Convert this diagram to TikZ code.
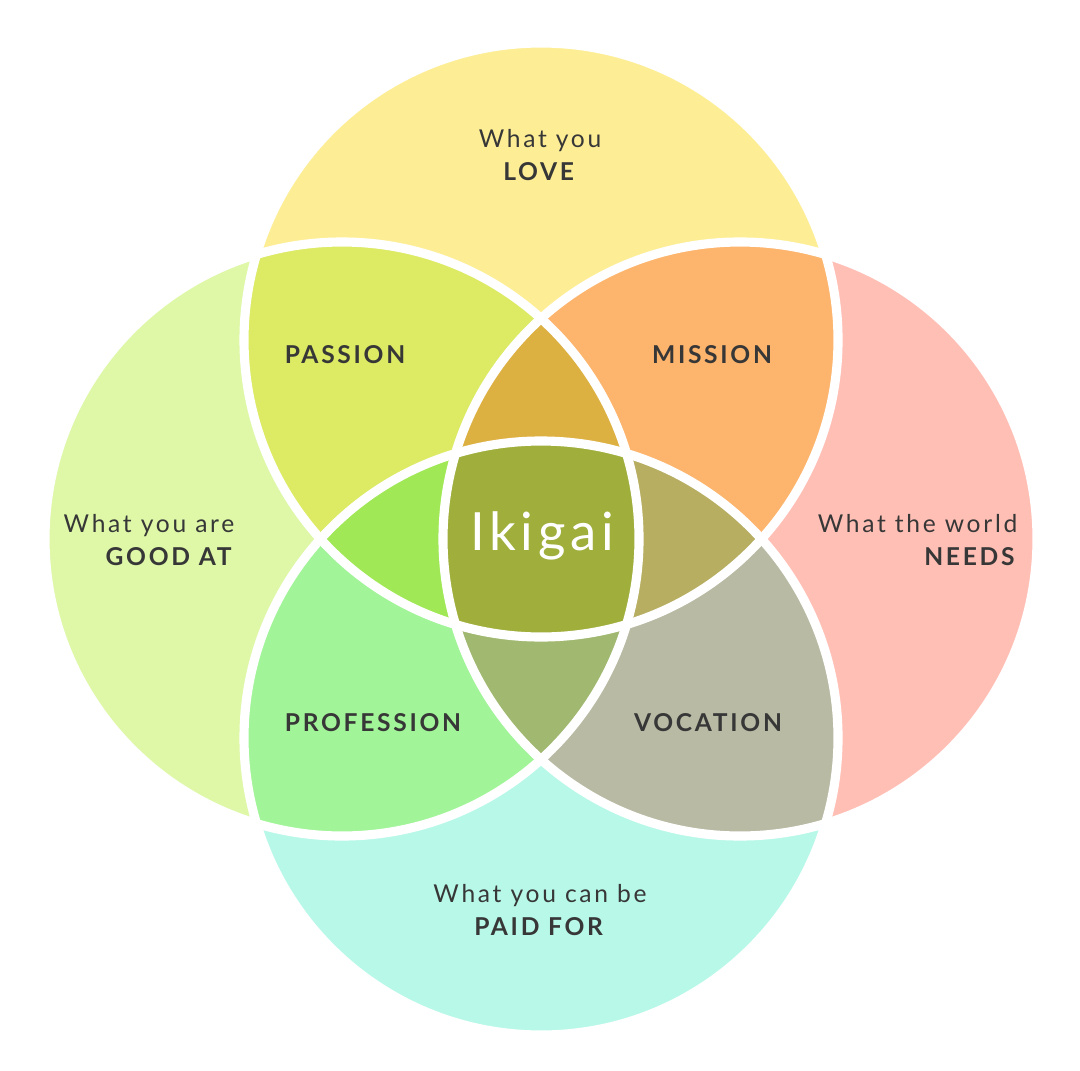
\documentclass[tikz,border=0pt]{standalone}
\usepackage{fontspec}
\setmainfont{Lato}
\usetikzlibrary{positioning}
\definecolor{love}{RGB}{253,238,150}
\definecolor{goodat}{RGB}{222,248,168}
\definecolor{needs}{RGB}{255,191,181}
\definecolor{paid}{RGB}{184,248,232}
\definecolor{passion}{RGB}{220,234,100}
\definecolor{mission}{RGB}{253,180,108}
\definecolor{profession}{RGB}{162,244,153}
\definecolor{vocation}{RGB}{184,186,164}
\definecolor{tlr}{RGB}{221,176,66}
\definecolor{tbl}{RGB}{160,232,86}
\definecolor{tbr}{RGB}{183,174,98}
\definecolor{blr}{RGB}{160,184,112}
\definecolor{ikigai}{RGB}{160,174,60}
\definecolor{txt}{RGB}{55,55,55}
\newcommand{\rad}{2.97}

\begin{document}
\begin{tikzpicture}[
    every node/.style={font=\fontsize{7.0}{9.2}\selectfont\addfontfeature{LetterSpace=11}, text=txt},
    twoline/.style={align=center},
    sidelabel/.style={align=right, anchor=east, inner sep=0pt},
    region/.style={font=\fontsize{7.0}{9.2}\selectfont\bfseries\addfontfeature{LetterSpace=11}}
]
    \useasboundingbox (0,0) rectangle (10.8,10.7);

    % Circle centres
    \coordinate (ctop) at (5.41,7.30);
    \coordinate (cbot) at (5.41,3.32);
    \coordinate (cleft) at (3.42,5.31);
    \coordinate (cright) at (7.40,5.31);

    % Single circles
    \fill[love] (ctop) circle (\rad);
    \fill[goodat] (cleft) circle (\rad);
    \fill[needs] (cright) circle (\rad);
    \fill[paid] (cbot) circle (\rad);

    % Pairs
    \begin{scope}
        \clip (ctop) circle (\rad);
        \fill[passion] (cleft) circle (\rad);
        \fill[mission] (cright) circle (\rad);
    \end{scope}
    \begin{scope}
        \clip (cbot) circle (\rad);
        \fill[profession] (cleft) circle (\rad);
        \fill[vocation] (cright) circle (\rad);
    \end{scope}

    % Triples
    \begin{scope}
        \clip (cleft) circle (\rad);
        \clip (cright) circle (\rad);
        \fill[tlr] (ctop) circle (\rad);
        \fill[blr] (cbot) circle (\rad);
    \end{scope}
    \begin{scope}
        \clip (ctop) circle (\rad);
        \clip (cbot) circle (\rad);
        \fill[tbl] (cleft) circle (\rad);
        \fill[tbr] (cright) circle (\rad);
        % Centre
        \clip (cleft) circle (\rad);
        \fill[ikigai] (cright) circle (\rad);
    \end{scope}

    % Outlines
    \foreach \c in {ctop,cbot,cleft,cright}
        \draw[white, line width=2.6pt] (\c) circle (\rad);

    % Labels
    \node[twoline] (love) at (5.40,9.15) {What you\\\textbf{LOVE}};
    \node[sidelabel] (goodat) at (2.35,5.30) {What you are\\\textbf{GOOD AT}};
    \node[sidelabel] (needs) at (10.18,5.30) {What the world\\\textbf{NEEDS}};
    \node[twoline] (paid) at (5.40,1.60) {What you can be\\\textbf{PAID FOR}};

    \node[region] (passion) at (3.45,7.15) {PASSION};
    \node[region] (mission) at (7.12,7.15) {MISSION};
    \node[region] (profession) at (3.73,3.47) {PROFESSION};
    \node[region] (vocation) at (7.08,3.47) {VOCATION};

    \node[font=\fontsize{15}{18}\selectfont\addfontfeature{LetterSpace=9}, text=white] (ikigai) at (5.42,5.34) {Ikigai};
\end{tikzpicture}
\end{document}
